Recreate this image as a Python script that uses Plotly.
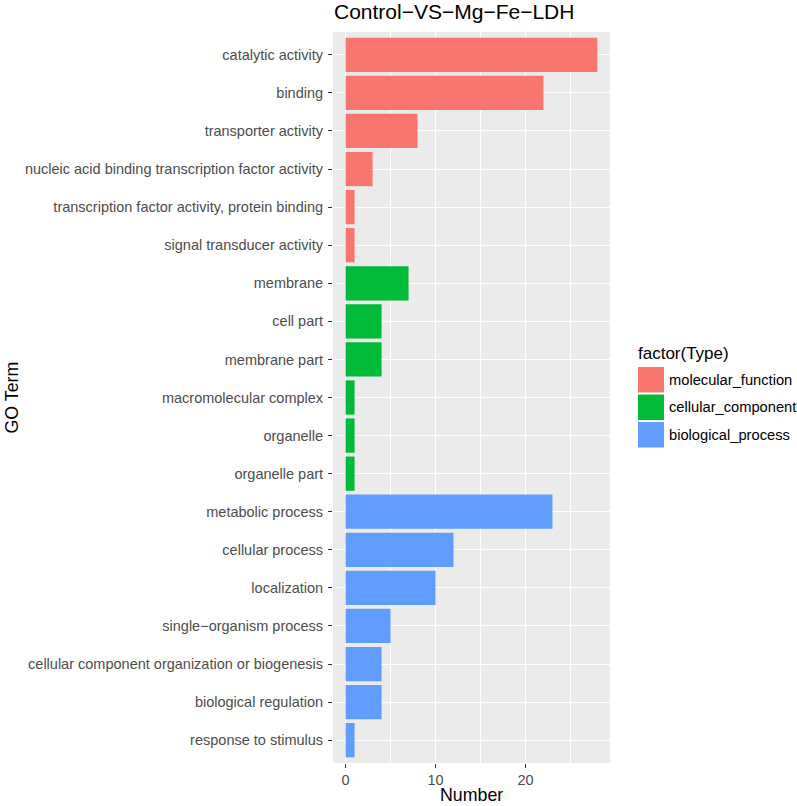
import plotly.graph_objects as go

terms = [
    "catalytic activity", "binding", "transporter activity",
    "nucleic acid binding transcription factor activity",
    "transcription factor activity, protein binding", "signal transducer activity",
    "membrane", "cell part", "membrane part", "macromolecular complex",
    "organelle", "organelle part",
    "metabolic process", "cellular process", "localization",
    "single\u2212organism process", "cellular component organization or biogenesis",
    "biological regulation", "response to stimulus",
]
counts = [28, 22, 8, 3, 1, 1, 7, 4, 4, 1, 1, 1, 23, 12, 10, 5, 4, 4, 1]
types = (["molecular_function"] * 6 + ["cellular_component"] * 6 +
         ["biological_process"] * 7)
type_order = ["molecular_function", "cellular_component", "biological_process"]
type_colors = ["#F8766D", "#00BA38", "#619CFF"]
x_ticks = [0, 10, 20]

fig = go.Figure()
for t, c in zip(type_order, type_colors):
    ys = [terms[i] for i in range(len(terms)) if types[i] == t]
    xs = [counts[i] for i in range(len(terms)) if types[i] == t]
    fig.add_trace(go.Bar(x=xs, y=ys, orientation="h", marker=dict(color=c, line=dict(width=0)),
                         name=t, showlegend=False, width=0.9))

# panel in pixels: x 333..610, y 32..763
W, H = 797, 806
L, R, T, B = 333, 610, 32, 763
pw, ph = R - L, B - T

def px_x(px):
    return (px - L) / pw

def px_y(py):
    return (B - py) / ph

font = "Liberation Sans, Arial, Helvetica, sans-serif"

shapes = []
annotations = []
# custom legend
annotations.append(dict(text="factor(Type)", x=px_x(636), y=px_y(353), xref="paper", yref="paper",
                        xanchor="left", yanchor="middle", showarrow=False,
                        font=dict(family=font, size=17, color="#000000")))
key_tops = [367, 394.5, 422]
for (t, c, top) in zip(type_order, type_colors, key_tops):
    shapes.append(dict(type="rect", xref="paper", yref="paper",
                       x0=px_x(638), x1=px_x(664), y0=px_y(top + 25.5), y1=px_y(top),
                       fillcolor=c, line=dict(width=0)))
    annotations.append(dict(text=t, x=px_x(667), y=px_y(top + 12.8), xref="paper", yref="paper",
                            xanchor="left", yanchor="middle", showarrow=False,
                            font=dict(family=font, size=14.7, color="#000000")))
# axis titles
annotations.append(dict(text="Number", x=0.5, y=px_y(795), xref="paper", yref="paper",
                        xanchor="center", yanchor="middle", showarrow=False,
                        font=dict(family=font, size=17.8, color="#000000")))
annotations.append(dict(text="GO Term", x=px_x(11), y=0.5, xref="paper", yref="paper",
                        xanchor="center", yanchor="middle", showarrow=False, textangle=-90,
                        font=dict(family=font, size=17.8, color="#000000")))

fig.update_layout(
    width=W, height=H,
    margin=dict(l=L, r=W - R, t=T, b=H - B, pad=0, autoexpand=False),
    paper_bgcolor="white", plot_bgcolor="#EBEBEB",
    bargap=0.1, barmode="overlay",
    title=dict(text="Control\u2212VS\u2212Mg\u2212Fe\u2212LDH", x=(L + 1) / W, xanchor="left",
               y=1 - 12 / H, yanchor="middle", xref="container", yref="container",
               font=dict(family=font, size=21, color="#000000")),
    shapes=shapes, annotations=annotations,
    showlegend=False,
)
fig.update_xaxes(
    range=[-1.4, 29.4], tickvals=x_ticks, ticktext=[str(v) for v in x_ticks],
    showgrid=True, gridcolor="white", gridwidth=1.2, zeroline=False,
    minor=dict(tickvals=[5, 15, 25], showgrid=True, gridcolor="white", gridwidth=0.6, ticks=""),
    ticks="outside", ticklen=4, tickcolor="#333333", tickwidth=1,
    tickfont=dict(family=font, size=14.5, color="#4D4D4D"),
    automargin=False, showline=False,
)
fig.update_yaxes(
    categoryorder="array", categoryarray=terms, range=[len(terms) - 0.4, -0.6],
    showgrid=True, gridcolor="white", gridwidth=1.2, zeroline=False,
    ticks="outside", ticklen=4, tickcolor="#333333", tickwidth=1,
    tickfont=dict(family=font, size=14.5, color="#4D4D4D"),
    ticklabelstandoff=2, automargin=False,
)
fig.write_html("out.html", config={"displayModeBar": False},
               post_script="document.body.style.margin='0';document.body.style.overflow='hidden';")
